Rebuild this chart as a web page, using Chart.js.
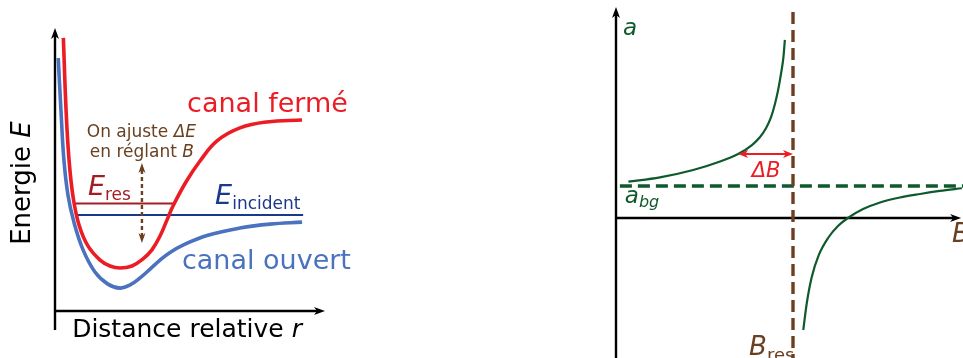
<!DOCTYPE html>
<html><head><meta charset="utf-8">
<script src="https://cdn.jsdelivr.net/npm/chart.js@4.4.1/dist/chart.umd.min.js"></script>
<style>
html,body{margin:0;padding:0;background:#fff;width:963px;height:358px;overflow:hidden}
#l{position:absolute;left:0;top:0;width:600px;height:358px}
#r{position:absolute;left:600px;top:0;width:363px;height:358px}
</style></head><body>
<div id="l"><canvas id="cl"></canvas></div>
<div id="r"><canvas id="cr"></canvas></div>
<script>
// ---- Left panel: potential curves (r = relative distance, E = energy, arbitrary units)
const closedR = [0.31,0.41,0.52,0.67,0.89,1.22,1.67,2.04,2.41,2.85,3.26,3.59,3.89,4.15,4.37,4.85,5.37,6.00,6.85,7.85,9.15];
const closedE = [9.65,7.10,5.34,4.03,3.04,2.30,1.80,1.59,1.52,1.59,1.84,2.16,2.65,3.22,3.71,4.56,5.30,6.01,6.47,6.68,6.75];
const openR   = [0.12,0.22,0.33,0.48,0.70,1.04,1.48,1.96,2.41,2.78,3.15,3.52,3.89,4.26,4.74,5.63,6.85,7.96,9.15];
const openE   = [8.94,7.10,5.34,4.10,3.14,2.16,1.38,0.95,0.81,0.92,1.17,1.48,1.80,2.07,2.33,2.67,2.93,3.07,3.14];
const eResLevel = 3.80, eResR = [0.67,4.37];
const eIncLevel = 3.39, eIncR = [0.74,9.19];
const labelsLeft = ["canal fermé","canal ouvert","On ajuste ","ΔE","en réglant ","B","Energie ","E","Distance relative ","r"];

// ---- Right panel: scattering length a vs field B
const upperB = [0.35,1.24,2.18,2.94,3.45,3.84,4.07,4.24,4.38,4.49,4.58,4.66,4.73,4.77];
const upperA = [2.27,2.54,3.00,3.53,4.00,4.56,5.06,5.63,6.31,7.13,8.00,9.00,10.06,11.13];
const lowerB = [5.29,5.39,5.53,5.73,5.99,6.27,6.55,6.98,7.46,8.02,8.59,9.15,9.77];
const lowerA = [-7.00,-5.31,-3.69,-2.31,-1.25,-0.50,0.00,0.56,0.97,1.28,1.50,1.69,1.86];
const aBg = 2, bRes = 5, deltaBStart = 3.45, deltaBLevel = 4.0;

const FONT = "'DejaVu Sans', sans-serif";
const zip = (xs, ys) => xs.map((x,i)=>({x, y: ys[i]}));

function head(ctx, x, y, ang, len, wid, color){
  ctx.save(); ctx.translate(x,y); ctx.rotate(ang);
  ctx.beginPath(); ctx.moveTo(0,0); ctx.lineTo(-len,-wid/2); ctx.lineTo(-len*0.72,0); ctx.lineTo(-len,wid/2); ctx.closePath();
  ctx.fillStyle = color; ctx.fill(); ctx.restore();
}
function drawArrow(ctx, ch, a){
  const sx = ch.scales.x, sy = ch.scales.y;
  const x1 = sx.getPixelForValue(a.from[0]), y1 = sy.getPixelForValue(a.from[1]);
  const x2 = sx.getPixelForValue(a.to[0]), y2 = sy.getPixelForValue(a.to[1]);
  const ang = Math.atan2(y2-y1, x2-x1), L = a.len||10, W = a.wid||8;
  const cut = L*0.6;
  const bx1 = a.both ? x1 + Math.cos(ang)*cut : x1, by1 = a.both ? y1 + Math.sin(ang)*cut : y1;
  const bx2 = x2 - Math.cos(ang)*cut, by2 = y2 - Math.sin(ang)*cut;
  ctx.save();
  ctx.strokeStyle = a.color; ctx.lineWidth = a.width; ctx.setLineDash(a.dash||[]);
  ctx.beginPath(); ctx.moveTo(bx1,by1); ctx.lineTo(bx2,by2); ctx.stroke();
  ctx.restore();
  head(ctx, x2, y2, ang, L, W, a.color);
  if (a.both) head(ctx, x1, y1, ang+Math.PI, L, W, a.color);
}
function drawText(ctx, ch, t){
  const x = ch.scales.x.getPixelForValue(t.x), y = ch.scales.y.getPixelForValue(t.y);
  ctx.save(); ctx.translate(x,y); if (t.rot) ctx.rotate(t.rot);
  ctx.fillStyle = t.color; ctx.textBaseline = 'alphabetic'; ctx.textAlign = 'left';
  let total = 0; const ws = t.runs.map(r=>{ctx.font = r.font; const w = ctx.measureText(r.t).width; total += w; return w;});
  let cx = t.align === 'center' ? -total/2 : 0;
  t.runs.forEach((r,i)=>{ ctx.font = r.font; ctx.fillText(r.t, cx, r.dy||0); cx += ws[i]; });
  ctx.restore();
}
const diagram = {
  id:'diagram',
  beforeDatasetsDraw(ch){
    const o = ch.options.plugins.diagram, ctx = ch.ctx;
    (o.under||[]).forEach(a=>drawArrow(ctx, ch, a));
  },
  afterDatasetsDraw(ch){
    const o = ch.options.plugins.diagram, ctx = ch.ctx;
    (o.arrows||[]).forEach(a=>drawArrow(ctx, ch, a));
    (o.texts||[]).forEach(t=>drawText(ctx, ch, t));
  }
};
function baseOpts(xmin,xmax,ymin,ymax,diag){
  return {
    responsive:true, maintainAspectRatio:false, animation:false, devicePixelRatio:1,
    layout:{padding:0},
    scales:{ x:{type:'linear',min:xmin,max:xmax,display:false}, y:{type:'linear',min:ymin,max:ymax,display:false} },
    plugins:{legend:{display:false}, tooltip:{enabled:false}, diagram:diag},
    elements:{point:{radius:0}}
  };
}
const RED='#ec1c24', BLUE='#4a72be', DRED='#a51d24', NAVY='#1c388a', BROWN='#6b4020', GREEN='#0e5a2c';

new Chart(document.getElementById('cl'), {
  type:'scatter',
  plugins:[diagram],
  data:{ datasets:[
    {data:zip(closedR,closedE), showLine:true, borderColor:RED, borderWidth:3.6, tension:0.4, borderCapStyle:'butt', order:0},
    {data:zip(openR,openE), showLine:true, borderColor:BLUE, borderWidth:3.6, tension:0.4, order:1},
    {data:zip(eResR,[eResLevel,eResLevel]), showLine:true, borderColor:DRED, borderWidth:2, order:2},
    {data:zip(eIncR,[eIncLevel,eIncLevel]), showLine:true, borderColor:NAVY, borderWidth:2, order:2}
  ]},
  options: baseOpts(-55/27, 545/27, -47/28.3, 311/28.3, {
    under:[
      {from:[0,-0.67], to:[0,10.0], color:'#000', width:2.4, len:11, wid:8},
      {from:[0,0], to:[10,0], color:'#000', width:2.4, len:11, wid:8}
    ],
    arrows:[
      {from:[3.22,2.40], to:[3.22,5.23], both:true, color:BROWN, width:2.4, dash:[4,3], len:10, wid:7}
    ],
    texts:[
      {x:7.87, y:7.03, align:'center', color:RED, runs:[{t:labelsLeft[0], font:`27px ${FONT}`}]},
      {x:7.83, y:1.48, align:'center', color:BLUE, runs:[{t:labelsLeft[1], font:`27px ${FONT}`}]},
      {x:3.20, y:6.15, align:'center', color:BROWN, runs:[{t:labelsLeft[2], font:`17px ${FONT}`},{t:labelsLeft[3], font:`italic 17px ${FONT}`}]},
      {x:3.22, y:5.44, align:'center', color:BROWN, runs:[{t:labelsLeft[4], font:`17px ${FONT}`},{t:labelsLeft[5], font:`italic 17px ${FONT}`}]},
      {x:1.22, y:4.10, color:DRED, runs:[{t:'E', font:`italic 27px ${FONT}`},{t:'res', font:`17px ${FONT}`, dy:5}]},
      {x:5.93, y:3.78, color:NAVY, runs:[{t:'E', font:`italic 27px ${FONT}`},{t:'incident', font:`17px ${FONT}`, dy:5}]},
      {x:(30-55)/27, y:4.52, rot:-Math.PI/2, align:'center', color:'#000', runs:[{t:labelsLeft[6], font:`26px ${FONT}`},{t:labelsLeft[7], font:`italic 26px ${FONT}`}]},
      {x:4.89, y:-0.92, align:'center', color:'#000', runs:[{t:labelsLeft[8], font:`25px ${FONT}`},{t:labelsLeft[9], font:`italic 25px ${FONT}`}]}
    ]
  })
});

new Chart(document.getElementById('cr'), {
  type:'scatter',
  plugins:[diagram],
  data:{ datasets:[
    {data:zip(upperB,upperA), showLine:true, borderColor:GREEN, borderWidth:2.2, cubicInterpolationMode:'monotone', order:0},
    {data:zip(lowerB,lowerA), showLine:true, borderColor:GREEN, borderWidth:2.2, cubicInterpolationMode:'monotone', order:0},
    {data:zip([0.11,10.2],[aBg,aBg]), showLine:true, borderColor:GREEN, borderWidth:3.4, borderDash:[12,6], order:2},
    {data:zip([bRes,bRes],[12.875,-9.5]), showLine:true, borderColor:BROWN, borderWidth:3.4, borderDash:[12,6], order:1}
  ]},
  options: baseOpts(-16/35.4, 347/35.4, -140/16, 218/16, {
    under:[
      {from:[0,-9.5], to:[0,13.19], color:'#000', width:2.4, len:11, wid:8},
      {from:[0,0], to:[9.75,0], color:'#000', width:2.4, len:11, wid:8}
    ],
    arrows:[
      {from:[deltaBStart,deltaBLevel], to:[bRes,deltaBLevel], both:true, color:RED, width:2, len:10, wid:8}
    ],
    texts:[
      {x:0.20, y:11.44, color:GREEN, runs:[{t:'a', font:`italic 23px ${FONT}`}]},
      {x:0.25, y:0.94, color:GREEN, runs:[{t:'a', font:`italic 23px ${FONT}`},{t:'bg', font:`italic 16px ${FONT}`, dy:4}]},
      {x:4.24, y:2.56, align:'center', color:RED, runs:[{t:'ΔB', font:`italic 21px ${FONT}`}]},
      {x:9.49, y:-1.5, color:BROWN, runs:[{t:'B', font:`italic 26px ${FONT}`}]},
      {x:3.76, y:-8.56, color:BROWN, runs:[{t:'B', font:`italic 26px ${FONT}`},{t:'res', font:`18px ${FONT}`, dy:6}]}
    ]
  })
});
</script>
</body></html>
